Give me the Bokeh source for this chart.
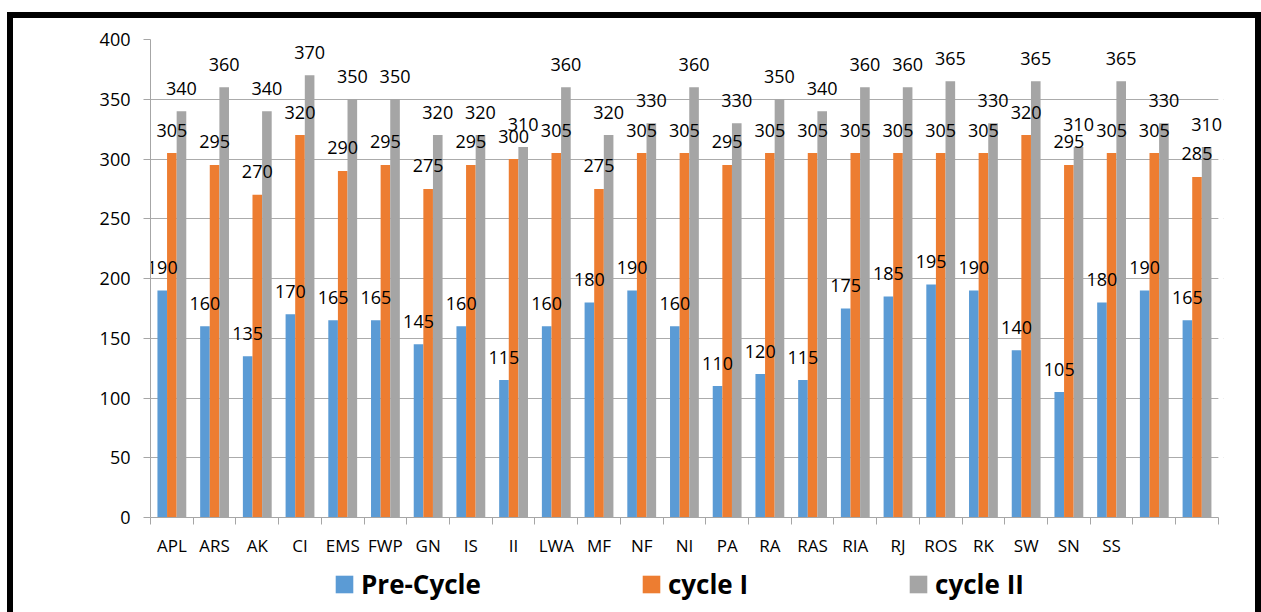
from bokeh.plotting import figure
from bokeh.layouts import column
from bokeh.models import ColumnDataSource, FixedTicker, Legend, LegendItem, Range1d, BoxAnnotation
from bokeh.core.properties import value
from bokeh.embed import file_html
from bokeh.resources import INLINE

categories = ["APL", "ARS", "AK", "CI", "EMS", "FWP", "GN", "IS", "II", "LWA", "MF", "NF", "NI",
              "PA", "RA", "RAS", "RIA", "RJ", "ROS", "RK", "SW", "SN", "SS", "", ""]
pre_cycle = [190, 160, 135, 170, 165, 165, 145, 160, 115, 160, 180, 190, 160, 110, 120, 115,
             175, 185, 195, 190, 140, 105, 180, 190, 165]
cycle_1 = [305, 295, 270, 320, 290, 295, 275, 295, 300, 305, 275, 305, 305, 295, 305, 305,
           305, 305, 305, 305, 320, 295, 305, 305, 285]
cycle_2 = [340, 360, 340, 370, 350, 350, 320, 320, 310, 360, 320, 330, 360, 330, 350, 340,
           360, 360, 365, 330, 365, 310, 365, 330, 310]
series_names = ["Pre-Cycle", "cycle I", "cycle II"]
y_ticks = [0, 50, 100, 150, 200, 250, 300, 350, 400]

colors = ["#5B9BD5", "#ED7D31", "#A5A5A5"]
FONT = "Open Sans"
n = len(categories)
bw = 0.225
extra = 0.12  # small room on the right so the last data label is not cut

W = 1242
H1 = 545
H2 = 49

p = figure(width=W, height=H1, output_backend="svg", toolbar_location=None,
           x_range=Range1d(-0.5, n - 0.5 + extra), y_range=Range1d(0, 400),
           min_border_left=137, min_border_right=32, min_border_top=21, min_border_bottom=H1 - 499)
p.outline_line_color = None
p.background_fill_color = "white"
p.border_fill_color = "white"

# hide the gridline overhang in the extra room (drawn under the glyphs)
p.add_layout(BoxAnnotation(left=n - 0.5, fill_color="white", fill_alpha=1, line_color=None, level="underlay"))

sources = []
for k, vals in enumerate([pre_cycle, cycle_1, cycle_2]):
    xs = [i + (k - 1) * bw for i in range(n)]
    sources.append(ColumnDataSource(dict(x=xs, top=vals, lab=[str(v) for v in vals])))

for src, col in zip(sources, colors):
    p.vbar(x="x", top="top", width=bw, bottom=0, source=src, fill_color=col, line_color=None)
for src in sources:
    p.text(x="x", y="top", text="lab", source=src, text_align="center", text_baseline="middle",
           y_offset=-23, text_font=value(FONT), text_font_size="18px", text_color="black")

# axes
p.xaxis.ticker = FixedTicker(ticks=list(range(n)), minor_ticks=[i - 0.5 for i in range(n + 1)])
p.xaxis.bounds = (-0.5, n - 0.5)
p.xaxis.major_label_overrides = {i: c for i, c in enumerate(categories)}
p.xaxis.major_tick_line_color = None
p.xaxis.minor_tick_line_color = "#A6A6A6"
p.xaxis.minor_tick_out = 7
p.xaxis.minor_tick_in = 0
p.xaxis.axis_line_color = "#A6A6A6"
p.xaxis.major_label_text_font = FONT
p.xaxis.major_label_text_font_size = "17px"
p.xaxis.major_label_text_color = "black"
p.xaxis.major_label_standoff = 9

p.yaxis.ticker = FixedTicker(ticks=y_ticks)
p.yaxis.minor_tick_line_color = None
p.yaxis.major_tick_line_color = "#A6A6A6"
p.yaxis.major_tick_out = 7
p.yaxis.major_tick_in = 0
p.yaxis.axis_line_color = "#A6A6A6"
p.yaxis.major_label_text_font = FONT
p.yaxis.major_label_text_font_size = "18px"
p.yaxis.major_label_text_color = "black"
p.yaxis.major_label_standoff = 13

p.xgrid.grid_line_color = None
p.ygrid.ticker = FixedTicker(ticks=y_ticks)
p.ygrid.grid_line_color = "#ABABAB"
p.ygrid.grid_line_width = 1.2

# legend strip
leg = figure(width=W, height=H2, output_backend="svg", toolbar_location=None,
             x_range=Range1d(0, W), y_range=Range1d(0, H2),
             min_border=0, min_border_left=0, min_border_right=0, min_border_top=0, min_border_bottom=0)
leg.axis.visible = False
leg.grid.visible = False
leg.outline_line_color = None
leg.border_fill_color = "white"
leg.background_fill_color = "white"
dummy = []
for col in colors:
    dummy.append(leg.vbar(x=[-1000], top=[-1000], bottom=[-1001], width=1, fill_color=col, line_color=None))
legend = Legend(items=[LegendItem(label=nm, renderers=[r]) for nm, r in zip(series_names, dummy)],
                orientation="horizontal", location=(183, 10),
                label_text_font=FONT, label_text_font_size="26px", label_text_font_style="bold",
                label_text_color="black", glyph_width=22, glyph_height=22, label_standoff=6,
                spacing=159, padding=0, margin=0, border_line_color=None,
                background_fill_alpha=0)
leg.add_layout(legend)

layout = column(p, leg, spacing=0, margin=(12, 0, 0, 7),
                styles={"border-top": "6px solid black", "border-left": "6px solid black",
                        "border-right": "6px solid black"})

open("out.html", "w").write(file_html(layout, INLINE))
